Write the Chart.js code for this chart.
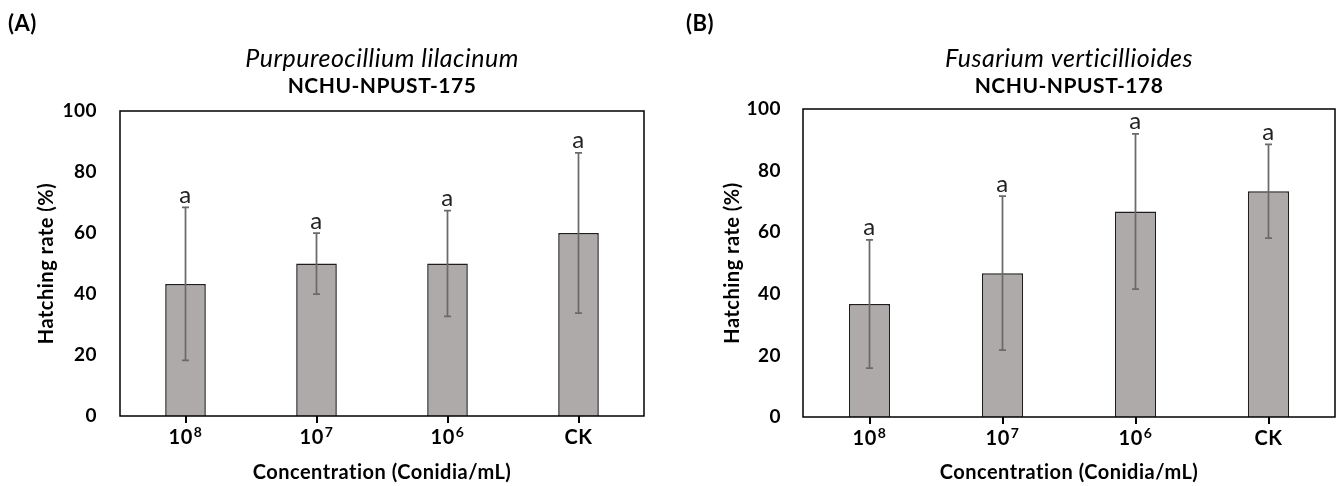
<!DOCTYPE html>
<html>
<head>
<meta charset="utf-8">
<script src="https://cdn.jsdelivr.net/npm/chart.js@4.4.1/dist/chart.umd.min.js"></script>
<style>
  html, body { margin: 0; padding: 0; background: #fff; }
  #wrap { position: relative; width: 1340px; height: 486px; }
  canvas { position: absolute; top: 0; }
</style>
</head>
<body>
<div id="wrap">
  <canvas id="chartA" width="670" height="486" style="left:0"></canvas>
  <canvas id="chartB" width="670" height="486" style="left:670px"></canvas>
</div>
<script>
// categories and tick values
var categories = ['10⁸', '10⁷', '10⁶', 'CK'];
var yTicks = [0, 20, 40, 60, 80, 100];

// (A) Purpureocillium lilacinum
var meanA = [43.3, 50.0, 50.0, 60.0];
var errA = [25.1, 10.0, 17.3, 26.3];
var lettersA = ['a', 'a', 'a', 'a'];

// (B) Fusarium verticillioides
var meanB = [36.7, 46.7, 66.7, 73.3];
var errB = [20.8, 25.0, 25.2, 15.2];
var lettersB = ['a', 'a', 'a', 'a'];

var FONT = "Lato, 'Noto Sans', sans-serif";
var SUP = { '⁰': '0', '¹': '1', '²': '2', '³': '3', '⁴': '4', '⁵': '5', '⁶': '6', '⁷': '7', '⁸': '8', '⁹': '9' };

function splitLabel(s) {
    var base = '', exp = '';
    for (var i = 0; i < s.length; i++) {
        if (SUP[s[i]]) exp += SUP[s[i]];
        else base += s[i];
    }
    return { base: base, exp: exp };
}

var overlay = {
    id: 'overlay',
    beforeDraw: function(chart) {
        // a little letter spacing also switches off Lato's "ti" ligature
        chart.ctx.letterSpacing = '0.5px';
    },
    afterDatasetsDraw: function(chart, args, o) {
        var ctx = chart.ctx;
        var y = chart.scales.y;
        var meta = chart.getDatasetMeta(0);
        ctx.save();
        meta.data.forEach(function(bar, i) {
            var m = o.means[i], e = o.errs[i];
            var top = y.getPixelForValue(m + e);
            var bot = y.getPixelForValue(m - e);
            // error bar
            ctx.strokeStyle = '#6a6a6a';
            ctx.lineWidth = 1.75;
            ctx.beginPath();
            ctx.moveTo(bar.x, top); ctx.lineTo(bar.x, bot);
            ctx.moveTo(bar.x - 3.5, top); ctx.lineTo(bar.x + 3.5, top);
            ctx.moveTo(bar.x - 3.5, bot); ctx.lineTo(bar.x + 3.5, bot);
            ctx.stroke();
            // significance letter
            ctx.fillStyle = '#222';
            ctx.font = '24px ' + FONT;
            ctx.textAlign = 'center';
            ctx.textBaseline = 'alphabetic';
            ctx.fillText(o.letters[i], bar.x, top - 4.5);
        });
        ctx.restore();
    },
    afterDraw: function(chart, args, o) {
        var ctx = chart.ctx;
        var ca = chart.chartArea;
        var x = chart.scales.x;
        ctx.save();
        // frame round the plot area
        ctx.strokeStyle = '#000';
        ctx.lineWidth = 1.5;
        ctx.strokeRect(ca.left, ca.top, ca.right - ca.left, ca.bottom - ca.top);

        // category labels with superscripts
        ctx.fillStyle = '#000';
        ctx.textAlign = 'left';
        ctx.textBaseline = 'alphabetic';
        categories.forEach(function(c, i) {
            var p = splitLabel(c);
            var px = x.getPixelForTick(i);
            ctx.font = 'bold 20px ' + FONT;
            var wb = ctx.measureText(p.base).width;
            ctx.font = 'bold 14px ' + FONT;
            var we = p.exp ? ctx.measureText(p.exp).width + 1 : 0;
            var sx = px - (wb + we) / 2;
            ctx.font = 'bold 20px ' + FONT;
            ctx.fillText(p.base, sx, ca.bottom + 28);
            if (p.exp) {
                ctx.font = 'bold 14px ' + FONT;
                ctx.fillText(p.exp, sx + wb + 1, ca.bottom + 21);
            }
        });

        // titles
        var cx = (ca.left + ca.right) / 2;
        ctx.textAlign = 'center';
        ctx.font = 'italic 25px ' + FONT;
        ctx.fillText(o.title1, cx, 67);
        ctx.font = 'bold 21px ' + FONT;
        ctx.fillText(o.title2, cx, 93);

        // panel label
        ctx.textAlign = 'left';
        ctx.font = 'bold 22px ' + FONT;
        ctx.fillText(o.panel, o.panelX, 31);
        ctx.restore();
    }
};

function makeChart(id, means, errs, letters, g) {
    var ctx = document.getElementById(id).getContext('2d');
    return new Chart(ctx, {
        type: 'bar',
        data: {
            labels: categories,
            datasets: [{
                data: means,
                backgroundColor: '#aeaaaa',
                borderColor: '#1e1e1e',
                borderWidth: 1.5,
                barPercentage: 0.31,
                categoryPercentage: 1.0
            }]
        },
        options: {
            responsive: false,
            animation: false,
            devicePixelRatio: 1,
            layout: {
                padding: { left: 0, right: g.padRight, top: g.top, bottom: 0 }
            },
            scales: {
                x: {
                    grid: {
                        display: true,
                        drawOnChartArea: false,
                        offset: false,
                        color: '#000',
                        lineWidth: 2,
                        tickLength: 7
                    },
                    border: { display: false },
                    ticks: { display: false },
                    title: {
                        display: true,
                        text: 'Concentration (Conidia/mL)',
                        color: '#000',
                        font: { family: FONT, size: 20, weight: 'bold' },
                        padding: { top: 0, bottom: 1 }
                    },
                    afterFit: function(scale) { scale.height = g.xHeight; }
                },
                y: {
                    min: yTicks[0],
                    max: yTicks[yTicks.length - 1],
                    afterBuildTicks: function(scale) {
                        scale.ticks = yTicks.map(function(v) { return { value: v }; });
                    },
                    grid: { display: false, drawTicks: false },
                    border: { display: false },
                    ticks: {
                        color: '#000',
                        padding: g.tickPad,
                        font: { family: FONT, size: 19, weight: 'bold' }
                    },
                    title: {
                        display: true,
                        text: 'Hatching rate (%)',
                        color: '#000',
                        font: { family: FONT, size: 20, weight: 'bold' },
                        padding: { top: g.yTitlePad, bottom: 0 }
                    },
                    afterFit: function(scale) { scale.width = g.left; }
                }
            },
            plugins: {
                legend: { display: false },
                tooltip: { enabled: false },
                title: { display: false },
                overlay: {
                    means: means,
                    errs: errs,
                    letters: letters,
                    title1: g.title1,
                    title2: g.title2,
                    panel: g.panel,
                    panelX: g.panelX
                }
            }
        },
        plugins: [overlay]
    });
}

makeChart('chartA', meanA, errA, lettersA, {
    left: 120, padRight: 26, top: 111, xHeight: 70, tickPad: 23, yTitlePad: 35,
    title1: 'Purpureocillium lilacinum', title2: 'NCHU-NPUST-175', panel: '(A)', panelX: 8
});
makeChart('chartB', meanB, errB, lettersB, {
    left: 133, padRight: 5, top: 109, xHeight: 69, tickPad: 22, yTitlePad: 51,
    title1: 'Fusarium verticillioides', title2: 'NCHU-NPUST-178', panel: '(B)', panelX: 16
});
</script>
</body>
</html>
